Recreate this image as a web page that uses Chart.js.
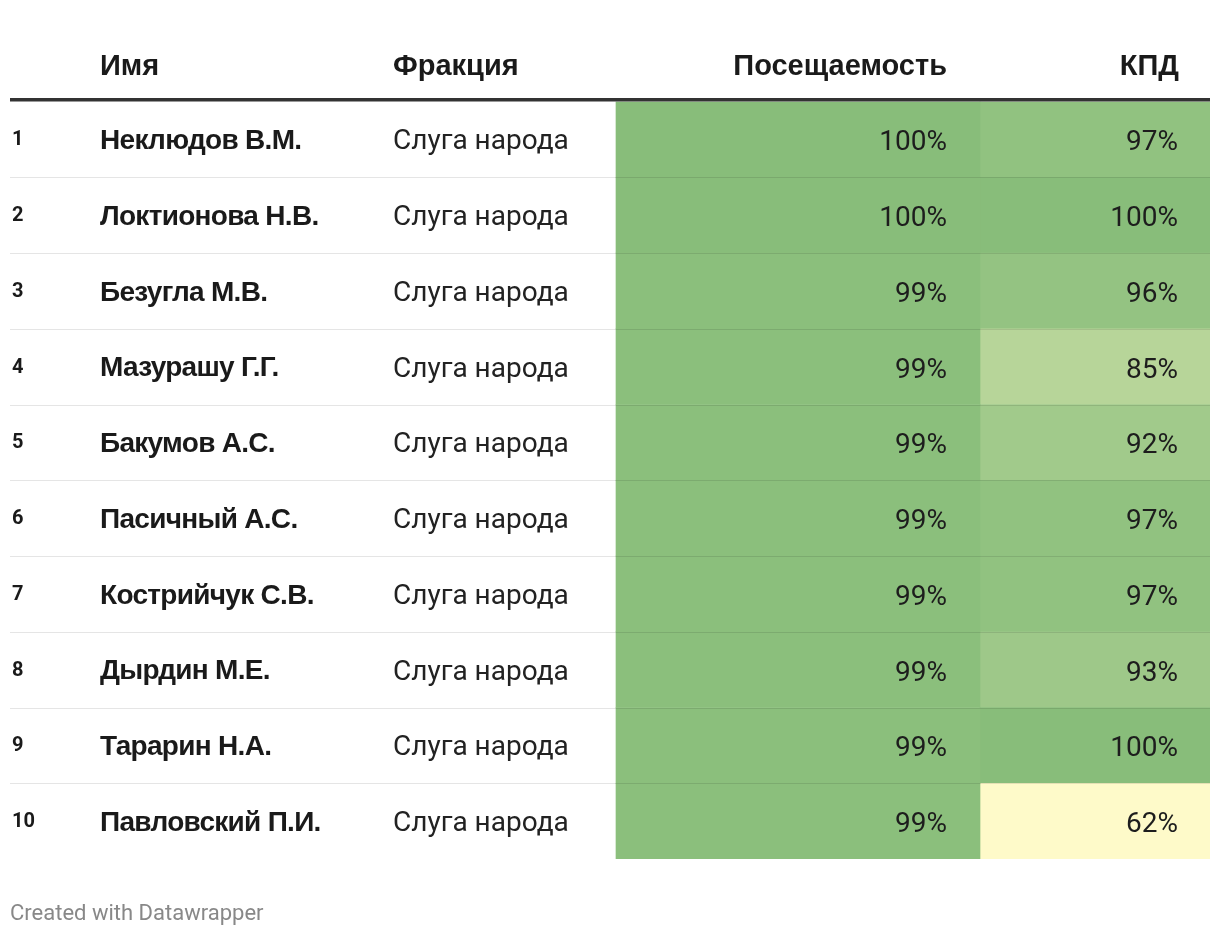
<!DOCTYPE html>
<html>
<head>
<meta charset="utf-8">
<script src="https://cdn.jsdelivr.net/npm/chart.js@4.4.1/dist/chart.umd.min.js"></script>
<style>
  body { margin: 0; background: #fff; }
  #wrap { width: 1220px; height: 936px; position: relative; }
</style>
</head>
<body>
<div id="wrap"><canvas id="tableChart"></canvas></div>
<script>
// table data
const headers = ['Имя', 'Фракция', 'Посещаемость', 'КПД'];
const names = ['Неклюдов В.М.', 'Локтионова Н.В.', 'Безугла М.В.', 'Мазурашу Г.Г.', 'Бакумов А.С.',
    'Пасичный А.С.', 'Кострийчук С.В.', 'Дырдин М.Е.', 'Тарарин Н.А.', 'Павловский П.И.'];
const factions = ['Слуга народа', 'Слуга народа', 'Слуга народа', 'Слуга народа', 'Слуга народа',
    'Слуга народа', 'Слуга народа', 'Слуга народа', 'Слуга народа', 'Слуга народа'];
const attendance = [100, 100, 99, 99, 99, 99, 99, 99, 99, 99];
const efficiency = [97, 100, 96, 85, 92, 97, 97, 93, 100, 62];
const rowLabels = names.map((n, i) => String(i + 1));

// column layout in table units (0..1200)
const cols = {
    num: 2, name: 90, faction: 383,
    att: [606, 970], attText: 937,
    kpd: [970, 1200], kpdText: 1168
};

// yellow -> green scale
function cellColor(v) {
    const lo = [254, 250, 201], hi = [136, 189, 122];
    let t = (v - 62) / 38;
    t = Math.max(0, Math.min(1, t));
    const c = lo.map((l, i) => Math.round(l + (hi[i] - l) * t));
    return `rgb(${c[0]},${c[1]},${c[2]})`;
}

const boldFont = 'bold 28px "Liberation Sans", Arial, sans-serif';

const tablePlugin = {
    id: 'tableText',
    afterDatasetsDraw(chart) {
        const ctx = chart.ctx;
        const x = chart.scales.x, y = chart.scales.y;
        const area = chart.chartArea;
        const band = y.getPixelForValue(1) - y.getPixelForValue(0);
        ctx.save();

        // row separators
        ctx.strokeStyle = 'rgba(0,0,0,0.1)';
        ctx.lineWidth = 1;
        for (let i = 0; i < rowLabels.length - 1; i++) {
            const py = Math.round(y.getPixelForValue(i) + band / 2) + 0.5;
            ctx.beginPath();
            ctx.moveTo(area.left, py);
            ctx.lineTo(area.right, py);
            ctx.stroke();
        }

        // header rule
        ctx.fillStyle = '#333';
        ctx.fillRect(area.left, area.top - 3.5, area.right - area.left, 3.5);

        // header labels
        ctx.fillStyle = '#1a1a1a';
        ctx.textBaseline = 'alphabetic';
        ctx.font = 'bold 29px "Liberation Sans", Arial, sans-serif';
        ctx.letterSpacing = '0px';
        ctx.textAlign = 'left';
        ctx.fillText(headers[0], x.getPixelForValue(cols.name), 75);
        ctx.fillText(headers[1], x.getPixelForValue(cols.faction), 75);
        ctx.textAlign = 'right';
        ctx.fillText(headers[2], x.getPixelForValue(cols.attText), 75);
        ctx.fillText(headers[3], x.getPixelForValue(cols.kpdText) + 1, 75);

        // rows
        rowLabels.forEach((lab, i) => {
            const py = y.getPixelForValue(i);
            ctx.textBaseline = 'middle';
            ctx.textAlign = 'left';
            ctx.fillStyle = '#1a1a1a';
            ctx.letterSpacing = '0px';
            ctx.font = 'bold 20px Roboto, sans-serif';
            ctx.fillText(lab, x.getPixelForValue(cols.num), py + 1);
            ctx.font = boldFont;
            ctx.letterSpacing = '-0.7px';
            ctx.fillText(names[i], x.getPixelForValue(cols.name), py + 2);
            ctx.letterSpacing = '0px';
            ctx.fillStyle = '#222';
            ctx.font = '28px Roboto, sans-serif';
            ctx.fillText(factions[i], x.getPixelForValue(cols.faction), py + 3);
            ctx.textAlign = 'right';
            ctx.fillStyle = '#1d1d1d';
            ctx.fillText(attendance[i] + '%', x.getPixelForValue(cols.attText), py + 4);
            ctx.fillText(efficiency[i] + '%', x.getPixelForValue(cols.kpdText), py + 4);
        });

        // footer
        ctx.textAlign = 'left';
        ctx.textBaseline = 'alphabetic';
        ctx.fillStyle = '#888';
        ctx.font = '22px Roboto, sans-serif';
        ctx.fillText('Created with Datawrapper', area.left, 920);
        ctx.restore();
    }
};

new Chart(document.getElementById('tableChart'), {
    type: 'bar',
    data: {
        labels: rowLabels,
        datasets: [{
            label: headers[2],
            data: attendance.map(() => cols.att),
            backgroundColor: attendance.map(cellColor),
            borderWidth: 0,
            barPercentage: 1,
            categoryPercentage: 1,
            grouped: false
        }, {
            label: headers[3],
            data: efficiency.map(() => cols.kpd),
            backgroundColor: efficiency.map(cellColor),
            borderWidth: 0,
            barPercentage: 1,
            categoryPercentage: 1,
            grouped: false
        }]
    },
    options: {
        indexAxis: 'y',
        responsive: true,
        maintainAspectRatio: false,
        animation: false,
        layout: { padding: { left: 10, right: 10, top: 101.5, bottom: 77 } },
        scales: {
            x: { type: 'linear', min: 0, max: 1200, display: false },
            y: { type: 'category', display: false, offset: true }
        },
        plugins: { legend: { display: false }, tooltip: { enabled: false } }
    },
    plugins: [tablePlugin]
});
</script>
</body>
</html>
